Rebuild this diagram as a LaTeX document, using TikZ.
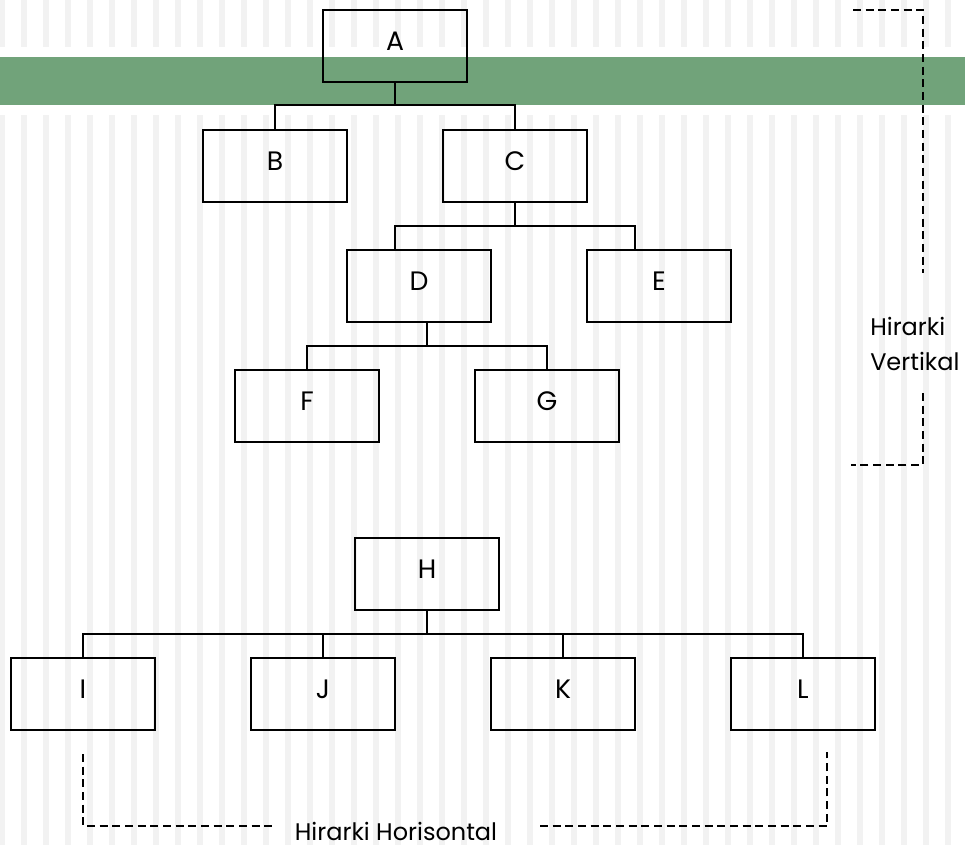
\documentclass[tikz,border=0pt]{standalone}
\usepackage{fontspec}
\setmainfont{Poppins}
\usepackage{tikz}
\usetikzlibrary{calc}
\usetikzlibrary{positioning}

\begin{document}
\begin{tikzpicture}[
  x=0.75pt, y=-0.75pt,
  stripe/.style = {fill=black!5},
  band/.style = {fill={rgb,255:red,113;green,163;blue,122}},
  unit/.style = {draw, line width=1.5pt, minimum width=108pt, minimum height=54pt, inner sep=0pt,
    font=\fontsize{20}{24}\selectfont, text height=14pt, text depth=7pt},
  link/.style = {line width=1.5pt},
  bracket/.style = {line width=1.5pt, dash pattern=on 6pt off 3.5pt},
  lbl/.style = {inner sep=0pt, font=\fontsize{18}{26}\selectfont}
  ]
  \useasboundingbox (0,0) rectangle (965,845);
  % background
  \foreach \i in {0,...,44} {
    \fill[stripe] (22*\i-1,0) rectangle (22*\i+5,47);
    \fill[stripe] (22*\i-1,115) rectangle (22*\i+5,845);
  }
  \fill[band] (0,57) rectangle (965,105);

  % vertical hierarchy
  \node[unit] (A) at (395,46) {A};
  \node[unit] (B) at (275,166) {B};
  \node[unit] (C) at (515,166) {C};
  \node[unit] (D) at (419,286) {D};
  \node[unit] (E) at (659,286) {E};
  \node[unit] (F) at (307,406) {F};
  \node[unit] (G) at (547,406) {G};

  \coordinate (abc) at (395,105);
  \coordinate (cde) at (515,226);
  \coordinate (dfg) at (427,346);

  \draw[link] (A.south) -- (abc);
  \draw[link] (B.north) |- (abc) -| (C.north);
  \draw[link] (C.south) -- (cde);
  \draw[link] ([xshift=-18pt]D.north) |- (cde) -| ([xshift=-18pt]E.north);
  \draw[link] ([xshift=6pt]D.south) -- (dfg);
  \draw[link] (F.north) |- (dfg) -| (G.north);

  % horizontal hierarchy
  \node[unit] (H) at (427,574) {H};
  \node[unit] (I) at (83,694) {I};
  \node[unit] (J) at (323,694) {J};
  \node[unit] (K) at (563,694) {K};
  \node[unit] (L) at (803,694) {L};

  \coordinate (hik) at (427,634);
  \draw[link] (H.south) -- (hik);
  \draw[link] (I.north) |- (hik) -| (L.north);
  \draw[link] (J.north) -- (J.north |- hik);
  \draw[link] (K.north) -- (K.north |- hik);

  % labels
  \node[lbl, align=left, anchor=west] (vert) at (870,344) {Hirarki\\Vertikal};
  \node[lbl] (horz) at (396,831) {Hirarki Horisontal};

  \coordinate (v1) at (853,10);
  \coordinate (v2) at (923,273);
  \coordinate (v3) at (923,393);
  \coordinate (v4) at (851,465);
  \draw[bracket] (v1) -| (v2);
  \draw[bracket] (v3) |- (v4);

  \coordinate (h1) at (83,754);
  \coordinate (h2) at (274,826);
  \coordinate (h3) at (540,826);
  \coordinate (h4) at (827,752);
  \draw[bracket] (h1) |- (h2);
  \draw[bracket] (h3) -| (h4);
\end{tikzpicture}
\end{document}
